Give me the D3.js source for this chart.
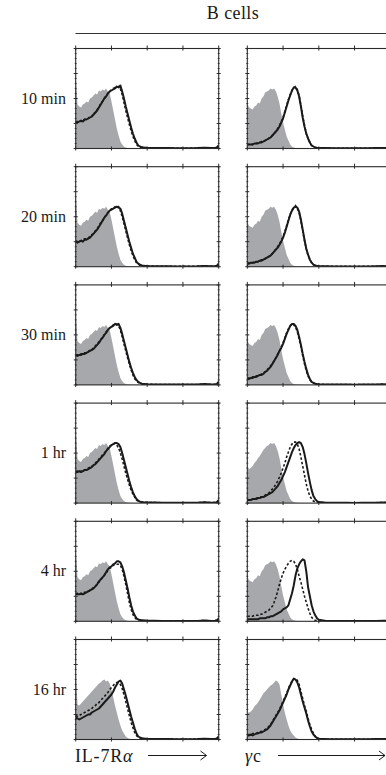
<!DOCTYPE html>
<html><head><meta charset="utf-8">
<script src="https://cdn.jsdelivr.net/npm/d3@7"></script>
<style>html,body{margin:0;padding:0;background:#fff;overflow:hidden}svg{display:block}</style>
</head><body>
<svg id="c" width="386" height="775"></svg>
<script>
// ---- data ----
const title = "B cells";
const rowLabels = ["10 min","20 min","30 min","1 hr","4 hr","16 hr"];
const markerText = ["IL-7R","","\u03b3","c"];  // plain / italic pieces
const xTicks = [0,1,2,3,4];
const yMajor = [0,25,50,75,100];
const yMinor = [5,10,15,20,30,35,40,45,55,60,65,70,80,85,90,95];
// log-decade bins
const bins = [0,0.05,0.1,0.15,0.2,0.25,0.3,0.35,0.4,0.45,0.5,0.55,0.6,0.65,0.7,0.75,0.8,0.85,0.9,0.95,
  1,1.05,1.1,1.15,1.2,1.25,1.3,1.35,1.4,1.45,1.5,1.55,1.6,1.65,1.7,1.75,1.8,1.85,1.9,1.95,2,
  2.2,2.4,2.6,2.8,3,3.2,3.4,3.6,3.8,3.9,3.95,4];
const tailGray = [0,0,0,0,0,0,0,0,0,0,0,0];
const tailL = [0.5,0.4,0.4,0.3,0.3,0.3,0.4,0.8,0.4,0.5,1,3];
const tailR = [0.4,0.3,0.3,0.3,0.2,0.3,0.3,0.4,0.6,0.5,0.5,0.4];
// isotype controls (% of max)
const isoIL7R = [73,44,42,41,44,45,47,46,50,51,53,55,54,58,57,59,58,60,57,55,47,38,29,20,13,7,4,2,1,0.5,0.3,0.2,0.2,0.1,0.1,0.1,0,0,0,0,0];
const isoIL7R16h = [73,35,34,36,38,40,42,44,46,48,50,52,54,56,57,59,60,58,59,56,50,42,34,27,20,14,9,6,3,1.5,0.8,0.4,0.2,0.1,0,0,0,0,0,0,0];
const isoGc = [45,41,40,39,42,43,46,45,50,52,56,57,58,60,59,60,57,52,45,35,26,19,12,8,4,2,1,0.5,0.3,0.2,0.1,0.1,0,0,0,0,0,0,0,0,0];
const isoGc1h = [36,34,35,37,40,42,45,47,50,53,55,57,58,60,59,60,57,52,45,35,26,19,12,8,4,2,1,0.5,0.3,0.2,0.1,0.1,0,0,0,0,0,0,0,0,0];
const isoGc16h = [27,27,28,30,33,35,37,40,43,46,48,50,52,54,55,57,59,58,55,45,35,27,20,14,9,6,4,2,1,0.5,0.3,0.2,0.1,0,0,0,0,0,0,0,0];
const isoIL7RRows = [isoIL7R,isoIL7R,isoIL7R,isoIL7R,isoIL7R,isoIL7R16h];
const isoGcRows = [isoGc,isoGc,isoGc,isoGc1h,isoGc,isoGc16h];
// IL-7Ra, solid and dashed, rows 10min..16hr
const il7rSolid = [
 [27,26,27,28,27,29,29,30,31,32,34,36,38,41,44,47,50,52,55,57,58,59,60,62,61,63,57,50,42,35,28,21,15,10,6,3,2,1.2,1,0.8,0.7],
 [25,24,25,26,25,27,27,28,29,31,33,35,37,40,43,46,49,51,54,56,57,58,59,60,59,58,53,46,39,32,25,19,13,9,5,3,2,1.2,1,0.8,0.7],
 [30,29,30,30,31,31,32,33,34,35,36,38,40,42,45,47,50,52,55,57,58,59,61,60,61,57,51,44,37,30,23,17,12,8,5,3,2,1.2,1,0.8,0.7],
 [32,31,32,31,32,33,33,34,35,36,38,39,41,43,45,47,49,52,54,56,58,59,60,60,59,56,50,43,36,29,22,16,11,7,4,2.5,1.5,1,0.8,0.7,0.6],
 [28,27,27,28,27,28,29,30,31,32,33,35,37,40,42,44,46,49,52,54,55,57,58,60,60,59,55,49,41,33,24,16,10,6,3,2,1.2,1,0.8,0.7,0.6],
 [22,21,20,21,22,23,24,25,25,27,28,29,30,31,33,35,37,39,41,43,45,48,52,55,58,59,56,50,44,37,30,23,17,11,6,3,2,1.2,1,0.8,0.7]
];
const il7rDashed = [
 [26,27,28,27,28,29,30,30,32,32,35,36,39,41,45,47,50,53,55,57,59,60,61,61,62,60,54,46,38,31,24,18,12,8,4,2.5,1.5,1,0.8,0.7,0.6],
 [26,25,26,26,27,28,28,29,30,32,33,36,38,41,44,46,49,52,54,56,58,58,60,59,60,56,50,43,36,29,22,16,11,7,4,2.5,1.5,1,0.8,0.7,0.6],
 [29,30,30,31,31,32,32,33,35,35,37,39,41,43,45,48,50,53,55,57,58,60,60,61,59,55,48,41,34,27,21,15,10,6,4,2.5,1.5,1,0.8,0.7,0.6],
 [31,32,31,32,33,33,34,35,36,37,38,40,42,44,46,48,50,52,55,57,58,59,60,58,55,50,44,37,30,24,18,13,9,6,3,2,1.5,1,0.8,0.7,0.6],
 [27,28,28,27,28,29,29,30,31,32,34,35,37,39,41,44,46,48,51,53,54,56,57,57,57,56,52,45,37,28,19,12,7,4,2,1.5,1,0.8,0.7,0.6,0.5],
 [24,23,24,25,26,27,28,29,30,31,33,34,36,37,39,41,43,45,47,50,52,54,56,57,57,55,51,45,38,31,24,17,12,7,4,2,1.5,1,0.8,0.7,0.6]
];
// gamma-c, solid and dashed
const gcSolid = [
 [4,4,4,4,5,5,5,6,6,7,8,9,10,11,13,15,17,19,22,26,30,36,42,48,53,58,61,61,58,52,42,31,22,15,10,6,3,2,1,0.7,0.5],
 [3,3,4,4,4,5,5,6,6,7,8,9,10,11,13,15,17,19,22,25,29,34,40,46,52,56,59,60,59,55,47,37,27,18,12,7,4,2,1.2,0.8,0.6],
 [6,6,7,7,8,8,9,10,10,11,13,14,16,18,21,24,27,30,34,37,41,46,51,55,59,61,61,59,55,48,40,31,23,16,10,6,3,2,1.2,0.8,0.6],
 [3,3,3,4,4,4,5,5,6,6,7,8,9,10,11,13,15,17,20,23,27,31,36,41,46,51,55,58,60,61,60,56,49,40,30,21,13,7,4,2,1],
 [2,2,2,2,2,2,2,3,3,3,3,4,4,5,5,6,7,8,9,10,12,13,14,16,22,28,36,46,53,57,60,62,61,50,34,25,16,10,6,3,1.5],
 [4,4,5,4,5,6,6,7,7,8,9,10,12,14,17,20,23,26,29,33,37,41,45,50,54,58,61,60,57,52,45,38,32,26,19,13,8,5,3,1.5,0.8]
];
const gcDashed = [
 [4,4,5,4,5,5,6,6,7,7,8,9,10,12,13,15,17,20,23,27,31,37,43,49,54,58,61,62,59,53,43,32,23,15,10,6,3,2,1,0.7,0.5],
 [3,4,4,4,5,5,5,6,7,7,8,9,10,12,13,15,18,20,23,26,30,35,41,47,52,57,59,61,58,54,46,36,26,18,11,7,4,2,1.2,0.8,0.6],
 [6,7,7,8,8,9,9,10,11,12,13,15,17,19,21,24,27,31,34,38,42,47,52,56,59,61,60,58,53,46,38,29,21,14,9,5,3,2,1.2,0.8,0.6],
 [3,3,4,4,4,5,5,6,6,7,8,9,10,12,14,16,19,22,26,30,35,40,46,51,56,59,61,61,59,54,46,37,28,19,12,7,4,2,1.2,0.8,0.6],
 [5,5,5,5,6,6,6,7,7,8,9,10,11,13,15,19,24,30,37,43,48,52,55,58,60,61,60,57,52,45,39,32,25,19,13,8,4,2,1,0.7,0.5],
 [5,5,5,6,6,6,7,8,8,9,10,11,13,15,18,21,24,27,30,34,38,42,46,51,55,58,60,61,59,55,48,41,34,28,21,15,10,6,3,1.5,0.8]
];

// ---- layout ----
const svg = d3.select("#c");
const font = "'Liberation Serif','DejaVu Serif',serif";
const colX = [75.7, 247.3];
const pw = 143, ph = 100;
const rowTop = i => 48.5 + i*118.2;
const x = d3.scaleLinear().domain([0,4]).range([0,pw]);
const y = d3.scaleLinear().domain([0,100]).range([ph,0]);
const ink = "#1a1a1a";

svg.append("text").attr("x",233).attr("y",18.5).attr("text-anchor","middle")
  .attr("font-family",font).attr("font-size",18).attr("letter-spacing",0.4).attr("fill",ink).text(title);
svg.append("line").attr("x1",75.5).attr("x2",386).attr("y1",33.5).attr("y2",33.5)
  .attr("stroke","#333").attr("stroke-width",1.2);

const defs = svg.append("defs");
const area = d3.area().x(d=>x(d[0])).y0(y(0)).y1(d=>y(d[1]));
const line = d3.line().x(d=>x(d[0])).y(d=>y(d[1]));
const pts = (vals, tail) => vals.concat(tail).map((v,i)=>[bins[i], v]);

rowLabels.forEach((lab, r) => {
  const top = rowTop(r);
  svg.append("text").attr("x",66).attr("y",top+ph/2+5).attr("text-anchor","end")
    .attr("font-family",font).attr("font-size",16).attr("fill",ink).text(lab);
  [0,1].forEach(c => {
    const g = svg.append("g").attr("transform",`translate(${colX[c]},${top})`);
    const cid = `clip${r}_${c}`;
    defs.append("clipPath").attr("id",cid).append("rect").attr("x",0).attr("y",0).attr("width",pw).attr("height",ph);
    const pg = g.append("g").attr("clip-path",`url(#${cid})`);
    const iso = c===0 ? isoIL7RRows[r] : isoGcRows[r];
    const tail = c===0 ? tailL : tailR;
    const sol = c===0 ? il7rSolid[r] : gcSolid[r];
    const das = c===0 ? il7rDashed[r] : gcDashed[r];
    pg.append("path").attr("d",area(pts(iso,tailGray))).attr("fill","#a6a8ab");
    pg.append("path").attr("d",line(pts(das,tail))).attr("fill","none").attr("stroke",ink)
      .attr("stroke-width",1.6).attr("stroke-dasharray","2.5,2");
    pg.append("path").attr("d",line(pts(sol,tail))).attr("fill","none").attr("stroke",ink)
      .attr("stroke-width",2).attr("stroke-linejoin","round");
    g.append("rect").attr("x",0).attr("y",0).attr("width",pw).attr("height",ph)
      .attr("fill","none").attr("stroke","#2a2a2a").attr("stroke-width",1.1);
    xTicks.forEach(t => {
      g.append("line").attr("x1",x(t)).attr("x2",x(t)).attr("y1",-3).attr("y2",2).attr("stroke","#2a2a2a").attr("stroke-width",1);
      g.append("line").attr("x1",x(t)).attr("x2",x(t)).attr("y1",ph-2).attr("y2",ph+2).attr("stroke","#2a2a2a").attr("stroke-width",1);
    });
    [0,pw].forEach(ex => {
      yMajor.forEach(t => g.append("line").attr("x1",ex-2).attr("x2",ex+2).attr("y1",y(t)).attr("y2",y(t)).attr("stroke","#2a2a2a").attr("stroke-width",1));
      yMinor.forEach(t => g.append("line").attr("x1",ex-1).attr("x2",ex+1).attr("y1",y(t)).attr("y2",y(t)).attr("stroke","#2a2a2a").attr("stroke-width",0.8));
    });
  });
});

// axis labels with arrows
const labY = 762;
const labels = [{tx:75, parts:[["IL-7R",false],["\u03b1",true]], x1:148, x2:206.5},
                {tx:245, parts:[["\u03b3",true],["c",false]], x1:278, x2:385}];
labels.forEach(a => {
  const t = svg.append("text").attr("x",a.tx).attr("y",labY).attr("font-family",font)
    .attr("font-size",18).attr("letter-spacing",0.8).attr("fill",ink);
  a.parts.forEach(p => t.append("tspan").attr("font-style",p[1]?"italic":"normal").text(p[0]));
  svg.append("line").attr("x1",a.x1).attr("x2",a.x2).attr("y1",755.5).attr("y2",755.5).attr("stroke",ink).attr("stroke-width",1);
  svg.append("path").attr("d",`M${a.x2-6},${751} L${a.x2},${755.5} L${a.x2-6},${760}`)
    .attr("fill","none").attr("stroke",ink).attr("stroke-width",1);
});
</script>
</body></html>
